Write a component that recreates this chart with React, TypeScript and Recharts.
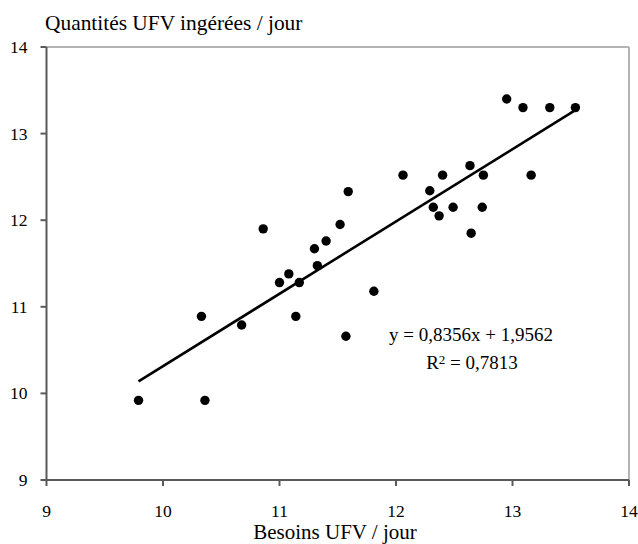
import React from 'react';
import { ScatterChart, Scatter, XAxis, YAxis, ReferenceLine } from 'recharts';

const besoins = [9.79, 10.36, 10.33, 10.675, 10.86, 11.0, 11.08, 11.17, 11.14, 11.3, 11.325, 11.4, 11.52, 11.59, 11.57, 11.81,
  12.95, 13.09, 13.32, 13.54, 12.06, 12.4, 12.635, 12.75, 13.16, 12.29, 12.32, 12.49, 12.74, 12.37, 12.645];
const ingerees = [9.92, 9.92, 10.89, 10.79, 11.9, 11.28, 11.38, 11.28, 10.89, 11.67, 11.475, 11.76, 11.95, 12.33, 10.66, 11.18,
  13.4, 13.3, 13.3, 13.3, 12.52, 12.52, 12.63, 12.52, 12.52, 12.34, 12.15, 12.15, 12.15, 12.05, 11.85];
const trendX = [9.79, 13.55];
const trendY = [10.14, 13.28];
const ticks = [9, 10, 11, 12, 13, 14];
const yTitle = 'Quantités UFV ingérées / jour';
const xTitle = 'Besoins UFV / jour';
const equation = 'y = 0,8356x + 1,9562';
const r2Value = '0,7813';

const points = besoins.map((x, i) => ({ x, y: ingerees[i] }));

const font = "'Liberation Serif', 'Times New Roman', serif";

const Dot = (props: any) => <circle cx={props.cx} cy={props.cy} r={4.7} fill="#000" />;

const XTick = (props: any) => (
  <text x={props.x} y={props.y} dy={27} textAnchor="middle" fill="#000" fontSize={17.5} fontFamily={font} style={{ fontFamily: font }}>
    {props.payload.value}
  </text>
);
const YTick = (props: any) => (
  <text x={props.x} y={props.y} dy={6} textAnchor="end" fill="#000" fontSize={17.5} fontFamily={font} style={{ fontFamily: font }}>
    {props.payload.value}
  </text>
);

export default function App() {
  return (
    <div style={{ position: 'absolute', left: 0, top: 0, width: 638, height: 544, background: '#fff', fontFamily: font }}>
      <style>{`svg text, svg tspan { font-family: 'Liberation Serif', 'Times New Roman', serif !important; }`}</style>
      <ScatterChart width={638} height={544} margin={{ top: 47, right: 9, bottom: 34, left: 0 }}>
        <XAxis
          type="number"
          dataKey="x"
          domain={[9, 14]}
          ticks={ticks}
          allowDataOverflow
          height={30}
          axisLine={{ stroke: '#5a5a5a', strokeWidth: 2 }}
          tickLine={{ stroke: '#5a5a5a', strokeWidth: 2 }}
          tickSize={6}
          tickMargin={4}
          tick={XTick}
        />
        <YAxis
          type="number"
          dataKey="y"
          domain={[9, 14]}
          ticks={ticks}
          allowDataOverflow
          width={46.5}
          axisLine={{ stroke: '#5a5a5a', strokeWidth: 2 }}
          tickLine={{ stroke: '#5a5a5a', strokeWidth: 2 }}
          tickSize={6}
          tickMargin={13}
          tick={YTick}
        />
        <ReferenceLine y={14} stroke="#b4b4b4" strokeWidth={2} />
        <ReferenceLine x={14} stroke="#b4b4b4" strokeWidth={2} />
        <ReferenceLine
          segment={[{ x: trendX[0], y: trendY[0] }, { x: trendX[1], y: trendY[1] }]}
          stroke="#000"
          strokeWidth={2.6}
        />
        <Scatter data={points} fill="#000" shape={Dot} isAnimationActive={false} />
      </ScatterChart>
      <div style={{ position: 'absolute', left: 45, top: 9, fontSize: 21.4, lineHeight: '28px', whiteSpace: 'nowrap', color: '#000' }}>
        {yTitle}
      </div>
      <div style={{ position: 'absolute', left: 335, top: 518, transform: 'translateX(-50%)', fontSize: 21, lineHeight: '28px', whiteSpace: 'nowrap', color: '#000' }}>
        {xTitle}
      </div>
      <div style={{ position: 'absolute', left: 471, top: 322, transform: 'translateX(-50%)', fontSize: 19, lineHeight: '26px', whiteSpace: 'nowrap', color: '#000' }}>
        {equation}
      </div>
      <div style={{ position: 'absolute', left: 472, top: 350, transform: 'translateX(-50%)', fontSize: 19, lineHeight: '26px', whiteSpace: 'nowrap', color: '#000' }}>
        R<sup style={{ fontSize: 13, verticalAlign: 'top', position: 'relative', top: -3 }}>2</sup> = {r2Value}
      </div>
    </div>
  );
}
